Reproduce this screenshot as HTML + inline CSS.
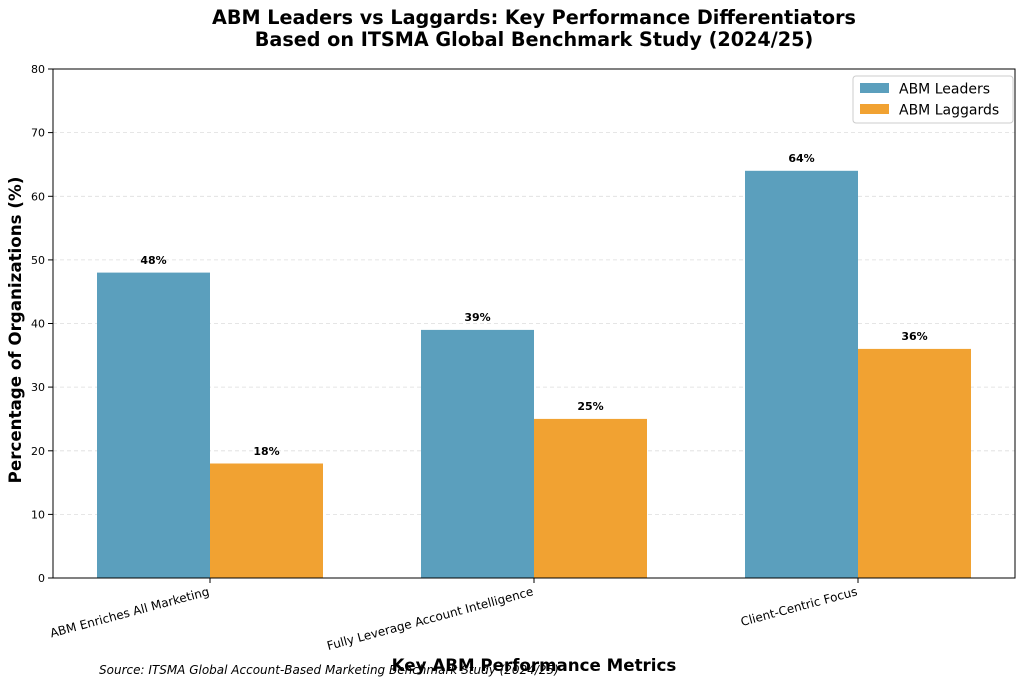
<!DOCTYPE html>
<html><head><meta charset="utf-8"><style>body{margin:0;background:#fff}svg{display:block}</style></head>
<body>
<svg width="1024" height="685" viewBox="0 0 1024 685" xmlns="http://www.w3.org/2000/svg" font-family="DejaVu Sans, Liberation Sans, sans-serif">
<rect width="1024" height="685" fill="#fff"/>
<text x="534" y="24" text-anchor="middle" font-size="19.2" font-weight="bold">ABM Leaders vs Laggards: Key Performance Differentiators</text>
<text x="534" y="46" text-anchor="middle" font-size="19.2" font-weight="bold">Based on ITSMA Global Benchmark Study (2024/25)</text>
<g stroke="#ddd" stroke-dasharray="4,3" stroke-width="0.8">
<line x1="53" x2="1015" y1="514.4" y2="514.4"/><line x1="53" x2="1015" y1="450.8" y2="450.8"/>
<line x1="53" x2="1015" y1="387.1" y2="387.1"/><line x1="53" x2="1015" y1="323.5" y2="323.5"/>
<line x1="53" x2="1015" y1="259.9" y2="259.9"/><line x1="53" x2="1015" y1="196.3" y2="196.3"/>
<line x1="53" x2="1015" y1="132.6" y2="132.6"/>
</g>
<g fill="#5b9fbd">
<rect x="97" y="272.6" width="113" height="305.4"/>
<rect x="421" y="329.9" width="113" height="248.1"/>
<rect x="745" y="170.8" width="113" height="407.2"/>
</g>
<g fill="#f1a232">
<rect x="210" y="463.5" width="113" height="114.5"/>
<rect x="534" y="418.9" width="113" height="159.1"/>
<rect x="858" y="348.9" width="113" height="229.1"/>
</g>
<g font-size="11" font-weight="bold" text-anchor="middle">
<text x="153.5" y="264">48%</text><text x="266.5" y="455">18%</text>
<text x="477.5" y="321">39%</text><text x="590.5" y="410">25%</text>
<text x="801.5" y="162">64%</text><text x="914.5" y="340">36%</text>
</g>
<rect x="53" y="69" width="962" height="509" fill="none" stroke="#000" stroke-width="1"/>
<g stroke="#000"><line x1="48" x2="53" y1="578" y2="578"/><line x1="48" x2="53" y1="514.4" y2="514.4"/><line x1="48" x2="53" y1="450.8" y2="450.8"/><line x1="48" x2="53" y1="387.1" y2="387.1"/><line x1="48" x2="53" y1="323.5" y2="323.5"/><line x1="48" x2="53" y1="259.9" y2="259.9"/><line x1="48" x2="53" y1="196.3" y2="196.3"/><line x1="48" x2="53" y1="132.6" y2="132.6"/><line x1="48" x2="53" y1="69" y2="69"/>
<line x1="210" x2="210" y1="578" y2="583"/><line x1="534" x2="534" y1="578" y2="583"/><line x1="858" x2="858" y1="578" y2="583"/></g>
<g font-size="11" text-anchor="end">
<text x="45" y="582">0</text><text x="45" y="518.4">10</text><text x="45" y="454.8">20</text><text x="45" y="391.1">30</text><text x="45" y="327.5">40</text><text x="45" y="263.9">50</text><text x="45" y="200.3">60</text><text x="45" y="136.6">70</text><text x="45" y="73">80</text>
</g>
<g font-size="12" text-anchor="end">
<text transform="translate(210,595) rotate(-15)">ABM Enriches All Marketing</text>
<text transform="translate(534,595) rotate(-15)">Fully Leverage Account Intelligence</text>
<text transform="translate(858,595) rotate(-15)">Client-Centric Focus</text>
</g>
<text transform="translate(21,330) rotate(-90)" text-anchor="middle" font-size="16.7" font-weight="bold">Percentage of Organizations (%)</text>
<text x="534" y="671" text-anchor="middle" font-size="16.7" font-weight="bold">Key ABM Performance Metrics</text>
<text x="99" y="674" font-size="12" font-style="italic">Source: ITSMA Global Account-Based Marketing Benchmark Study (2024/25)</text>
<rect x="853" y="76" width="160" height="47" rx="3" fill="#fff" stroke="#ccc"/>
<rect x="860" y="83" width="29" height="10" fill="#5b9fbd"/>
<rect x="860" y="104" width="29" height="10" fill="#f1a232"/>
<text x="899" y="93.5" font-size="14">ABM Leaders</text>
<text x="899" y="114.5" font-size="14">ABM Laggards</text>
</svg>
</body></html>
